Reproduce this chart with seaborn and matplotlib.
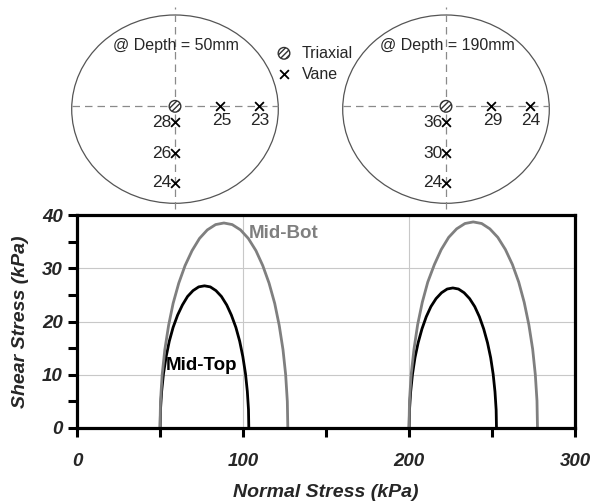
import matplotlib
matplotlib.use("Agg")
import matplotlib.pyplot as plt
import pandas as pd
import seaborn as sns
from matplotlib.patches import Ellipse
from matplotlib.ticker import MultipleLocator

# Mohr circle traces: normal stress / shear stress (kPa)
TOP_50_SIGMA = [103.5, 103.3, 102.6, 101.5, 99.9, 98.0, 95.7, 93.0, 90.2, 87.0, 83.7, 80.3, 76.8,
                73.3, 69.9, 66.6, 63.5, 60.6, 57.9, 55.6, 53.7, 52.1, 51.0, 50.3, 50.1]
TOP_50_TAU = [0, 3.5, 6.9, 10.2, 13.4, 16.3, 18.9, 21.2, 23.1, 24.7, 25.8, 26.5, 26.7,
              26.5, 25.8, 24.7, 23.1, 21.2, 18.9, 16.3, 13.4, 10.2, 6.9, 3.5, 0]
BOT_50_SIGMA = [127.0, 126.7, 125.7, 124.1, 121.8, 119.1, 115.7, 111.9, 107.8, 103.2, 98.5, 93.5, 88.5,
                83.5, 78.5, 73.8, 69.3, 65.1, 61.3, 57.9, 55.2, 52.9, 51.3, 50.3, 50.0]
BOT_50_TAU = [0, 5.0, 10.0, 14.7, 19.3, 23.4, 27.2, 30.5, 33.3, 35.6, 37.2, 38.2, 38.5,
              38.2, 37.2, 35.6, 33.3, 30.5, 27.2, 23.4, 19.3, 14.7, 10.0, 5.0, 0]
TOP_200_SIGMA = [252.7, 252.5, 251.8, 250.7, 249.2, 247.3, 245.0, 242.4, 239.6, 236.5, 233.2, 229.8, 226.4,
                 223.0, 219.6, 216.3, 213.2, 210.4, 207.8, 205.5, 203.6, 202.1, 201.0, 200.3, 200.1]
TOP_200_TAU = [0, 3.4, 6.8, 10.1, 13.2, 16.0, 18.6, 20.9, 22.8, 24.3, 25.4, 26.1, 26.3,
               26.1, 25.4, 24.3, 22.8, 20.9, 18.6, 16.0, 13.2, 10.1, 6.8, 3.4, 0]
BOT_200_SIGMA = [277.4, 277.1, 276.1, 274.5, 272.2, 269.4, 266.1, 262.3, 258.1, 253.5, 248.7, 243.8, 238.7,
                 233.7, 228.7, 223.9, 219.4, 215.3, 211.3, 208.0, 205.2, 203.0, 201.3, 200.3, 200.0]
BOT_200_TAU = [0, 5.1, 10.0, 14.8, 19.4, 23.6, 27.4, 30.7, 33.5, 35.8, 37.4, 38.4, 38.7,
               38.4, 37.4, 35.8, 33.5, 30.7, 27.4, 23.6, 19.4, 14.8, 10.0, 5.1, 0]

# sample plan: depth labels, vane positions (fraction of radius) and vane readings
DEPTHS = ["@ Depth = 50mm", "@ Depth = 190mm"]
VANE_H_POS = [0.44, 0.81]
VANE_V_POS = [-0.17, -0.50, -0.81]
VANE_H_VALS = [[25, 23], [29, 24]]
VANE_V_VALS = [[28, 26, 24], [36, 30, 24]]

COLORS = {"Mid-Top": "black", "Mid-Bot": "#7f7f7f"}
FONT = ["Liberation Sans", "DejaVu Sans"]

sns.set_theme(style="white")
plt.rcParams["font.family"] = FONT

rows = []
for arc, layer, xs, ys in [
    ("t50", "Mid-Top", TOP_50_SIGMA, TOP_50_TAU),
    ("b50", "Mid-Bot", BOT_50_SIGMA, BOT_50_TAU),
    ("t200", "Mid-Top", TOP_200_SIGMA, TOP_200_TAU),
    ("b200", "Mid-Bot", BOT_200_SIGMA, BOT_200_TAU),
]:
    for x, y in zip(xs, ys):
        rows.append({"arc": arc, "layer": layer, "sigma": x, "tau": y})
df = pd.DataFrame(rows)

W, H = 593, 504
fig = plt.figure(figsize=(W / 100, H / 100), dpi=100)
fig.patch.set_facecolor("white")


def px_axes(left, top, width, height):
    return fig.add_axes([left / W, 1 - (top + height) / H, width / W, height / H])


# ---- main Mohr circle plot ----
ax = px_axes(77, 215, 498, 213)
sns.lineplot(data=df, x="sigma", y="tau", hue="layer", units="arc", estimator=None,
             sort=False, palette=COLORS, lw=2.0, legend=False, ax=ax)
ax.set_xlim(0, 300)
ax.set_ylim(0, 40)
ax.xaxis.set_major_locator(MultipleLocator(100))
ax.xaxis.set_minor_locator(MultipleLocator(50))
ax.yaxis.set_major_locator(MultipleLocator(10))
ax.yaxis.set_minor_locator(MultipleLocator(5))
ax.grid(True, which="major", color="#c8c8c8", lw=0.8)
for s in ax.spines.values():
    s.set_color("black")
    s.set_linewidth(2.3)
ax.tick_params(which="both", direction="out", length=6.3, width=2.2, color="black",
               bottom=True, left=True)
ax.tick_params(axis="x", which="major", pad=12)
ax.tick_params(axis="y", which="major", pad=4)
for lab in ax.get_xticklabels() + ax.get_yticklabels():
    lab.set_fontsize(13.5)
    lab.set_fontweight("bold")
    lab.set_fontstyle("italic")
ax.set_xlabel("Normal Stress (kPa)", fontsize=14, fontweight="bold", fontstyle="italic", labelpad=10)
ax.set_ylabel("Shear Stress (kPa)", fontsize=14, fontweight="bold", fontstyle="italic", labelpad=9)
ax.text(103.6, 36.6, "Mid-Bot", color=COLORS["Mid-Bot"], fontsize=13.5, fontweight="bold",
        ha="left", va="center")
ax.text(53.3, 11.7, "Mid-Top", color=COLORS["Mid-Top"], fontsize=13.5, fontweight="bold",
        ha="left", va="center")

# ---- sample plan circles ----
for i, left in enumerate([71.7, 342.7]):
    cax = px_axes(left, 15, 206.6, 188.3)
    cax.set_xlim(-1, 1)
    cax.set_ylim(-1, 1)
    cax.axis("off")
    cy = 0.03  # crosshair sits slightly above the circle centre
    cax.add_patch(Ellipse((0, 0), 2, 2, fill=False, ec="#555555", lw=0.9, clip_on=False))
    cax.plot([-1, 1], [cy, cy], ls=(0, (6, 4)), color="#8a8a8a", lw=0.9, clip_on=False)
    cax.plot([0, 0], [-1.06, 1.09], ls=(0, (6, 4)), color="#8a8a8a", lw=0.9, clip_on=False)
    cax.text(0.01, 0.68, DEPTHS[i], fontsize=11.5, ha="center", va="center")
    sns.scatterplot(x=[0], y=[cy], marker="o", s=70, color="white", edgecolor="#333333",
                    linewidth=1.0, hatch="//////", ax=cax, clip_on=False, zorder=3)
    sns.scatterplot(x=VANE_H_POS, y=[cy] * len(VANE_H_POS), marker="x", s=40, color="black",
                    linewidth=1.3, ax=cax, clip_on=False, zorder=3)
    sns.scatterplot(x=[0] * len(VANE_V_POS), y=[cy + v for v in VANE_V_POS], marker="x", s=40,
                    color="black", linewidth=1.3, ax=cax, clip_on=False, zorder=3)
    for x, v in zip(VANE_H_POS, VANE_H_VALS[i]):
        cax.annotate(str(v), (x, cy), xytext=(1, -10), textcoords="offset points",
                     fontsize=12.5, ha="center", va="center")
    for y, v in zip(VANE_V_POS, VANE_V_VALS[i]):
        cax.annotate(str(v), (0, cy + y), xytext=(-2.5, 0), textcoords="offset points",
                     fontsize=12.5, ha="right", va="center")

# ---- legend between circles ----
lax = px_axes(0, 0, W, H)
lax.set_xlim(0, W)
lax.set_ylim(H, 0)
lax.axis("off")
sns.scatterplot(x=[284], y=[53.3], marker="o", s=70, color="white", edgecolor="#333333",
                linewidth=1.0, hatch="//////", ax=lax)
sns.scatterplot(x=[284], y=[74.3], marker="x", s=40, color="black", linewidth=1.3, ax=lax)
lax.text(301.7, 53.3, "Triaxial", fontsize=11.5, ha="left", va="center")
lax.text(301.7, 74.3, "Vane", fontsize=11.5, ha="left", va="center")

fig.savefig("out.png", dpi=100, facecolor="white")
